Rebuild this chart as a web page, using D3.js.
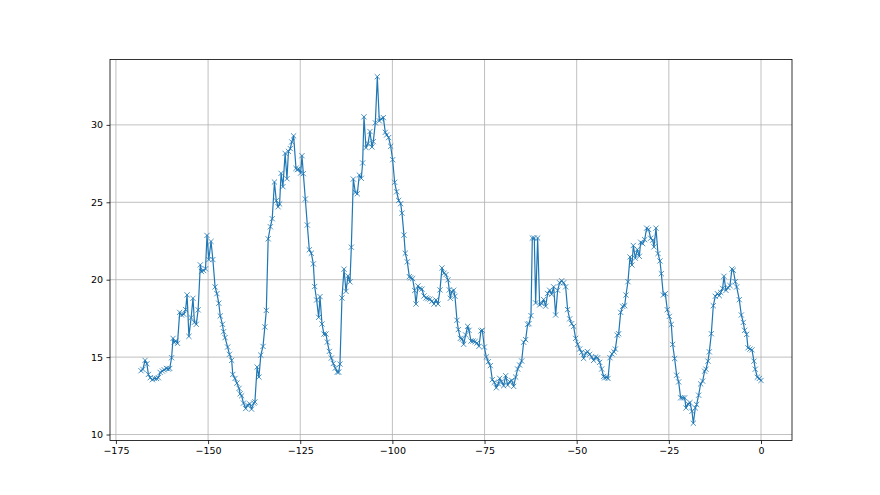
<!DOCTYPE html>
<html><head><meta charset="utf-8">
<script src="https://cdn.jsdelivr.net/npm/d3@7"></script>
<style>body{margin:0;background:#fff} svg{display:block}</style>
</head><body>
<svg id="c" width="880" height="495"></svg>
<script>
const hours = [
-168.2,-167.7,-167.1,-166.6,-166.2,-165.7,-165.1,-164.6,-164.0,-163.5,
-163.0,-162.4,-161.9,-161.3,-160.8,-160.4,-159.9,-159.5,-159.2,-158.8,
-158.3,-157.7,-157.2,-156.6,-156.1,-155.7,-155.2,-154.6,-154.1,-153.7,
-153.2,-152.7,-152.1,-151.8,-151.2,-150.7,-150.3,-149.8,-149.2,-148.7,
-148.1,-147.6,-147.1,-146.7,-146.1,-145.8,-145.4,-144.7,-144.2,-143.6,
-143.3,-142.7,-142.2,-141.6,-141.3,-140.9,-140.4,-139.8,-139.3,-138.7,
-138.2,-137.6,-137.3,-136.7,-136.2,-135.7,-135.1,-134.6,-134.2,-133.7,
-133.1,-132.6,-132.0,-131.5,-131.0,-130.6,-130.2,-129.7,-129.1,-128.6,
-128.2,-127.7,-127.3,-126.8,
-126.15,-125.79,-125.43,-124.89,-124.53,-124.16,-123.62,-123.08,-122.54,-121.99,
-121.45,-121.09,-120.55,-120.00,-119.64,-119.10,-118.56,-118.02,-117.65,-117.11,
-116.57,-116.03,-115.48,-114.94,-114.58,-114.22,-113.68,-113.13,-112.59,-112.05,
-111.51,-111.14,-110.60,-110.06,-109.52,-108.97,-108.43,-108.07,-107.71,-107.17,
-106.62,-106.08,-105.54,-105.18,-104.63,-104.09,-103.55,-103.01,-102.46,-101.92,
-101.56,-101.02,-100.47,-99.93,-99.39,-98.85,-98.30,-97.76,-97.40,-96.86,
-96.50,-95.95,-95.41,-95.05,-94.51,-93.96,-93.60,-93.06,-92.52,-91.98,
-91.43,-90.89,-90.35,-89.81,-89.26,-88.72,-88.18,-87.64,-87.09,-86.55,
-86.01,-85.47,-84.92,-84.56,
-84.28,-83.92,-83.38,-83.02,-82.48,-82.11,-81.57,-81.03,-80.67,-80.12,
-79.58,-79.22,-78.68,-78.14,-77.59,-77.05,-76.51,-75.97,-75.60,-75.06,
-74.52,-73.98,-73.43,-72.89,-72.35,-71.81,-71.26,-70.90,-70.36,-69.82,
-69.27,-68.73,-68.19,-67.65,-67.10,-66.56,-66.02,-65.48,-64.93,-64.39,
-63.85,-63.31,-62.95,-62.40,-62.04,-61.50,-61.14,-60.59,-60.05,-59.51,
-58.97,-58.42,-57.88,-57.34,-56.80,-56.25,-55.71,-55.17,-54.63,-54.08,
-53.54,-53.00,-52.46,-51.91,-51.37,-50.83,-50.29,-49.74,-49.20,-48.66,
-48.12,-47.57,-47.03,-46.49,-45.95,-45.40,-44.86,-44.32,-43.78,-43.23,
-42.69,
-42.41,-41.87,-41.51,-40.97,-40.43,-39.88,-39.52,-38.98,-38.62,-38.07,
-37.53,-36.99,-36.63,-36.09,-35.54,-35.00,-34.64,-34.10,-33.55,-33.01,
-32.65,-32.11,-31.56,-31.02,-30.48,-29.94,-29.39,-29.03,-28.49,-27.95,
-27.41,-27.04,-26.50,-25.96,-25.42,-24.87,-24.33,-23.97,-23.43,-22.88,
-22.34,-21.80,-21.26,-20.71,-20.35,-19.81,-19.27,-18.73,-18.36,-17.82,
-17.46,-16.92,-16.37,-15.83,-15.29,-14.93,-14.39,-14.02,-13.48,-12.94,
-12.40,-11.85,-11.31,-10.95,-10.41,-10.05,-9.50,-8.96,-8.42,-7.88,
-7.51,-6.97,-6.61,-5.89,-5.34,-4.80,-4.44,-3.90,-3.54,-2.99,
-2.45,-1.91,-1.55,-1.00,-0.46,0
];
const temps = [
14.12,14.21,14.79,14.57,13.88,13.67,13.54,13.62,13.62,13.67,
14.01,14.10,14.18,14.27,14.23,14.27,14.96,16.21,15.95,16.04,
15.89,17.89,17.72,17.77,18.07,19.02,16.34,17.55,18.80,17.25,
17.12,18.05,20.96,20.53,20.59,20.70,22.86,21.30,22.47,21.30,
19.53,19.10,18.48,17.66,17.12,16.64,16.26,15.65,15.18,14.79,
13.88,13.62,13.32,12.98,12.63,12.50,12.03,11.68,11.90,11.98,
11.64,12.03,12.11,14.36,13.71,15.13,15.69,16.95,18.02,22.64,
23.42,23.94,26.31,25.10,24.71,24.89,26.87,26.01,28.16,26.52,
28.29,28.47,28.90,29.29,
27.19,27.11,27.15,26.89,28.01,26.85,25.21,23.53,21.93,21.71,
21.02,19.56,18.69,17.57,18.91,17.14,16.49,16.49,15.97,15.37,
14.94,14.59,14.29,14.03,14.03,14.55,18.82,20.68,19.25,20.25,
19.86,22.10,26.50,25.64,25.55,26.76,26.55,27.54,30.52,28.53,
28.79,29.57,28.57,28.92,30.13,33.11,30.26,30.39,30.47,29.52,
29.35,29.18,28.62,27.75,26.29,25.68,25.12,24.91,24.30,22.88,
21.71,21.15,20.20,20.12,20.07,19.30,18.43,19.60,19.43,19.39,
18.95,18.82,18.78,18.74,18.61,18.43,18.69,18.43,19.34,20.76,
20.42,20.33,19.99,19.34,
18.80,19.23,19.32,18.93,17.38,16.78,16.21,16.17,15.83,16.43,
16.99,16.73,16.04,16.04,16.00,15.91,15.70,16.69,16.73,15.65,
15.01,14.70,14.45,13.54,13.37,13.02,13.28,13.63,13.41,13.15,
13.80,13.19,13.41,13.50,13.11,13.71,14.23,14.49,14.75,15.96,
16.13,17.12,17.16,17.68,22.69,22.69,18.50,22.69,18.37,18.46,
18.72,18.29,19.11,19.32,19.06,19.54,17.72,19.32,19.80,19.93,
19.80,19.54,18.07,17.47,17.16,16.99,16.21,15.83,15.52,15.31,
14.92,15.27,15.35,15.18,15.01,14.79,15.01,14.96,14.66,14.23,
13.75,
13.66,13.70,13.62,14.96,15.21,15.34,15.52,16.42,16.51,17.89,
18.28,18.32,19.01,19.87,21.47,20.95,22.21,21.39,21.95,21.51,
22.42,22.33,22.59,23.33,23.24,22.68,22.55,22.12,23.33,21.69,
21.21,20.39,19.01,19.10,18.06,17.63,17.11,15.82,14.91,13.83,
13.40,12.37,12.37,12.37,11.72,11.98,12.06,11.50,10.73,11.72,
11.94,12.54,13.27,13.45,14.09,14.22,14.74,15.34,16.51,18.32,
18.93,19.10,18.97,19.18,19.44,20.22,19.31,19.49,19.62,20.69,
20.61,19.87,19.53,18.71,17.72,17.24,16.73,16.47,15.60,15.52,
15.47,14.74,14.22,13.70,13.62,13.49
];
const xTicks = [-175,-150,-125,-100,-75,-50,-25,0];
const yTicks = [10,15,20,25,30];

const W = 880, H = 495;
const L = 110, R = 792, T = 59.4, B = 440.55;
const color = '#1f77b4';
const font = 'DejaVu Sans, sans-serif';

const data = hours.map((h, i) => ({x: h, y: temps[i]}));
const xe = d3.extent(hours), ye = d3.extent(temps);
const xp = (xe[1] - xe[0]) * 0.05, yp = (ye[1] - ye[0]) * 0.05;
const x = d3.scaleLinear().domain([xe[0] - xp, xe[1] + xp]).range([L, R]);
const y = d3.scaleLinear().domain([ye[0] - yp, ye[1] + yp]).range([B, T]);

const svg = d3.select('#c');
svg.append('rect').attr('width', W).attr('height', H).attr('fill', '#fff');

// grid
const grid = svg.append('g');
grid.selectAll('line.gx').data(xTicks).join('line').attr('class', 'gx')
  .attr('x1', d => x(d)).attr('x2', d => x(d)).attr('y1', T).attr('y2', B)
  .attr('stroke', '#b0b0b0').attr('stroke-width', 0.8);
grid.selectAll('line.gy').data(yTicks).join('line').attr('class', 'gy')
  .attr('x1', L).attr('x2', R).attr('y1', d => y(d)).attr('y2', d => y(d))
  .attr('stroke', '#b0b0b0').attr('stroke-width', 0.8);

// line
const line = d3.line().x(d => x(d.x)).y(d => y(d.y));
svg.append('path').datum(data).attr('d', line)
  .attr('fill', 'none').attr('stroke', color).attr('stroke-width', 1.2)
  .attr('stroke-linejoin', 'round').attr('stroke-linecap', 'square');

// markers
svg.append('g').selectAll('path').data(data).join('path')
  .attr('transform', d => `translate(${x(d.x)},${y(d.y)})`)
  .attr('d', 'M-2.6,-2.6L2.6,2.6M-2.6,2.6L2.6,-2.6')
  .attr('stroke', color).attr('stroke-width', 0.8).attr('fill', 'none');

// axes
const ax = svg.append('g').attr('transform', `translate(0,${B})`)
  .call(d3.axisBottom(x).tickValues(xTicks).tickSize(3.5).tickPadding(3.5).tickSizeOuter(0));
const ay = svg.append('g').attr('transform', `translate(${L},0)`)
  .call(d3.axisLeft(y).tickValues(yTicks).tickSize(3.5).tickPadding(3.5).tickSizeOuter(0));
[ax, ay].forEach(a => {
  a.select('.domain').remove();
  a.selectAll('.tick line').attr('stroke', '#000').attr('stroke-width', 0.8);
  a.selectAll('.tick text').attr('fill', '#000').style('font-family', font).style('font-size', '9.5px');
});

// spines
svg.append('rect').attr('x', L).attr('y', T).attr('width', R - L).attr('height', B - T)
  .attr('fill', 'none').attr('stroke', '#000').attr('stroke-width', 0.8);
</script>
</body></html>
